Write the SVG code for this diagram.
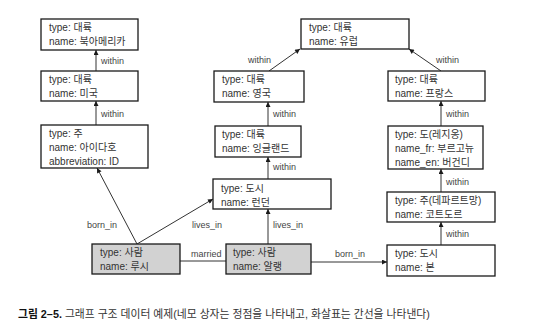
<svg xmlns="http://www.w3.org/2000/svg" width="533" height="335" viewBox="0 0 533 335">
  <style>
    .box { fill: #ffffff; stroke: #1a1a1a; stroke-width: 1.3; }
    .person { fill: #d2d2d2; stroke: #1a1a1a; stroke-width: 1.3; }
    .t { font-family: "Liberation Sans", "Noto Sans CJK KR", sans-serif; font-size: 10px; fill: #333333; }
    .edge { stroke: #333333; stroke-width: 1; fill: none; }
    .lbl { font-family: "Liberation Sans", "Noto Sans CJK KR", sans-serif; font-size: 9px; fill: #444444; }
    .cap { font-family: "Liberation Sans", "Noto Sans CJK KR", sans-serif; font-size: 10.8px; fill: #333333; }
  </style>
  <defs>
    <marker id="arrow" viewBox="0 0 6 6" refX="6" refY="3" markerWidth="6" markerHeight="5" markerUnits="userSpaceOnUse" orient="auto">
      <path d="M0,0 L6,3 L0,6 z" fill="#1a1a1a"/>
    </marker>
  </defs>
  <rect width="533" height="335" fill="#ffffff"/>

  <!-- connectors -->
  <g id="edges">
    <line class="edge" x1="96" y1="71" x2="96" y2="50" marker-end="url(#arrow)"/>
    <text class="lbl" x="101" y="64">within</text>
    <line class="edge" x1="96" y1="125" x2="96" y2="101" marker-end="url(#arrow)"/>
    <text class="lbl" x="101" y="117">within</text>

    <line class="edge" x1="269" y1="71" x2="300" y2="49" marker-end="url(#arrow)"/>
    <text class="lbl" x="248" y="63">within</text>
    <line class="edge" x1="268" y1="126" x2="268" y2="102" marker-end="url(#arrow)"/>
    <text class="lbl" x="273" y="117">within</text>
    <line class="edge" x1="268" y1="179" x2="268" y2="157" marker-end="url(#arrow)"/>
    <text class="lbl" x="273" y="170">within</text>

    <line class="edge" x1="441" y1="71" x2="409" y2="49" marker-end="url(#arrow)"/>
    <text class="lbl" x="436" y="63">within</text>
    <line class="edge" x1="441" y1="126" x2="441" y2="101" marker-end="url(#arrow)"/>
    <text class="lbl" x="446" y="117">within</text>
    <line class="edge" x1="441" y1="192" x2="441" y2="169" marker-end="url(#arrow)"/>
    <text class="lbl" x="446" y="185">within</text>
    <line class="edge" x1="441" y1="245" x2="441" y2="222" marker-end="url(#arrow)"/>
    <text class="lbl" x="446" y="237">within</text>

    <line class="edge" x1="137" y1="244" x2="97" y2="168" marker-end="url(#arrow)"/>
    <text class="lbl" x="87" y="228">born_in</text>
    <line class="edge" x1="137" y1="244" x2="213" y2="199" marker-end="url(#arrow)"/>
    <text class="lbl" x="192" y="228">lives_in</text>
    <line class="edge" x1="268" y1="244" x2="268" y2="209" marker-end="url(#arrow)"/>
    <text class="lbl" x="273" y="228">lives_in</text>
    <line class="edge" x1="180" y1="261" x2="226" y2="261"/>
    <text class="lbl" x="191" y="257">married</text>
    <line class="edge" x1="311" y1="262" x2="387" y2="262" marker-end="url(#arrow)"/>
    <text class="lbl" x="335" y="257">born_in</text>
  </g>

  <!-- left column -->
  <g id="north-america">
    <rect class="box" x="41" y="19" width="97" height="31"/>
    <text class="t" x="49" y="31">type: 대륙</text>
    <text class="t" x="49" y="45">name: 북아메리카</text>
  </g>
  <g id="usa">
    <rect class="box" x="41" y="71" width="97" height="30"/>
    <text class="t" x="49" y="83">type: 대륙</text>
    <text class="t" x="49" y="97">name: 미국</text>
  </g>
  <g id="idaho">
    <rect class="box" x="41" y="125" width="107" height="43"/>
    <text class="t" x="49" y="137">type: 주</text>
    <text class="t" x="49" y="151">name: 아이다호</text>
    <text class="t" x="49" y="165">abbreviation: ID</text>
  </g>

  <!-- middle column -->
  <g id="europe">
    <rect class="box" x="301" y="19" width="108" height="30"/>
    <text class="t" x="309" y="31">type: 대륙</text>
    <text class="t" x="309" y="45">name: 유럽</text>
  </g>
  <g id="uk">
    <rect class="box" x="214" y="71" width="90" height="31"/>
    <text class="t" x="222" y="83">type: 대륙</text>
    <text class="t" x="222" y="97">name: 영국</text>
  </g>
  <g id="england">
    <rect class="box" x="215" y="126" width="86" height="31"/>
    <text class="t" x="222" y="138">type: 대륙</text>
    <text class="t" x="222" y="152">name: 잉글랜드</text>
  </g>
  <g id="london">
    <rect class="box" x="213" y="179" width="118" height="30"/>
    <text class="t" x="221" y="192">type: 도시</text>
    <text class="t" x="221" y="206">name: 런던</text>
  </g>

  <!-- right column -->
  <g id="france">
    <rect class="box" x="388" y="71" width="97" height="30"/>
    <text class="t" x="395" y="83">type: 대륙</text>
    <text class="t" x="395" y="97">name: 프랑스</text>
  </g>
  <g id="burgundy">
    <rect class="box" x="388" y="126" width="95" height="43"/>
    <text class="t" x="395" y="138">type: 도(레지옹)</text>
    <text class="t" x="395" y="152">name_fr: 부르고뉴</text>
    <text class="t" x="395" y="166">name_en: 버건디</text>
  </g>
  <g id="cote-dor">
    <rect class="box" x="387" y="192" width="108" height="30"/>
    <text class="t" x="395" y="204">type: 주(데파르트망)</text>
    <text class="t" x="395" y="218">name: 코트도르</text>
  </g>
  <g id="beaune">
    <rect class="box" x="387" y="245" width="108" height="31"/>
    <text class="t" x="395" y="257">type: 도시</text>
    <text class="t" x="395" y="271">name: 본</text>
  </g>

  <!-- people -->
  <g id="lucy">
    <rect class="person" x="92" y="244" width="88" height="30"/>
    <text class="t" x="100" y="256">type: 사람</text>
    <text class="t" x="100" y="270">name: 루시</text>
  </g>
  <g id="alain">
    <rect class="person" x="226" y="244" width="85" height="30"/>
    <text class="t" x="233" y="256">type: 사람</text>
    <text class="t" x="233" y="270">name: 알랭</text>
  </g>

  <!-- caption -->
  <text class="cap" x="18" y="318"><tspan font-weight="bold" fill="#111111">그림 2–5.</tspan> 그래프 구조 데이터 예제(네모 상자는 정점을 나타내고, 화살표는 간선을 나타낸다)</text>
</svg>
